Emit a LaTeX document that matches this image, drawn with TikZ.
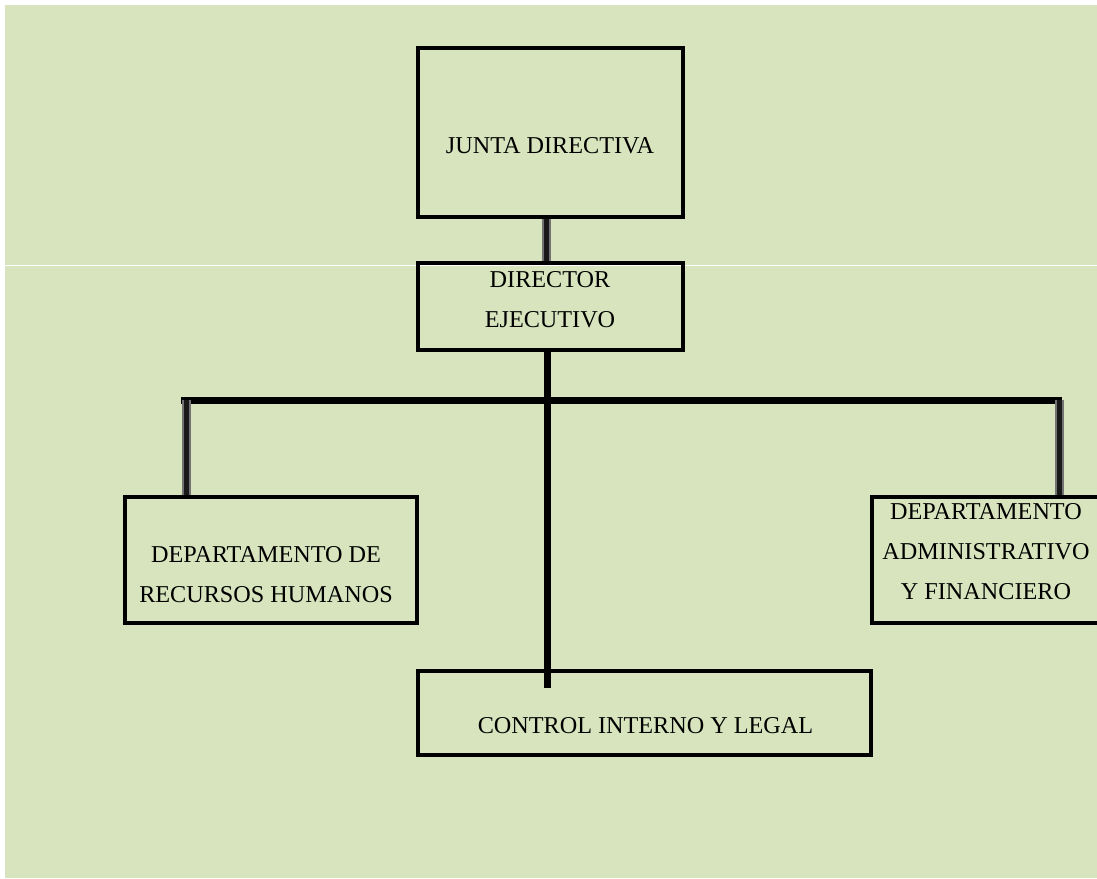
\documentclass[tikz,border=0pt]{standalone}
\usepackage{fontspec}
\setmainfont{Liberation Serif}
\begin{document}
\begin{tikzpicture}[x=1pt,y=-1pt,
  orgbox/.style={draw=black, line width=4pt, inner sep=0pt},
  orgtext/.style={align=center, inner sep=0pt, font=\fontsize{24.2}{40}\selectfont, text=black},
  trunkline/.style={line width=7pt, black},
  linkshade/.style={draw=black!55, double=black!90, double distance=5pt, line width=2pt}]
  \definecolor{sheet}{HTML}{D7E4BD}
  \useasboundingbox (0,0) rectangle (1097,878);
  \clip (0,0) rectangle (1097,878);
  % page and background
  \fill[white] (0,0) rectangle (1097,878);
  \fill[sheet] (5,5) rectangle (1097,878);
  \draw[white, line width=1pt] (5,265.3) -- (1097,265.3);

  % boxes
  \node[orgbox, minimum width=265pt, minimum height=169pt] (junta) at (550.5,132.5) {};
  \node[orgtext] (juntat) at (550,146) {JUNTA DIRECTIVA};

  \node[orgbox, minimum width=265pt, minimum height=87pt] (dir) at (550.5,306.5) {};
  \node[orgtext] (dirt) at (550,300) {DIRECTOR\\EJECUTIVO};

  \node[orgbox, minimum width=292pt, minimum height=126pt] (rrhh) at (271,560) {};
  \node[orgtext] (rrhht) at (266,575) {DEPARTAMENTO DE\\RECURSOS HUMANOS};

  \node[orgbox, minimum width=240pt, minimum height=126pt] (adm) at (992,560) {};
  \node[orgtext] (admt) at (986,552) {DEPARTAMENTO\\ADMINISTRATIVO\\Y FINANCIERO};

  \node[orgbox, minimum width=453pt, minimum height=84pt] (ctrl) at (644.5,713) {};
  \node[orgtext] (ctrlt) at (645.5,726) {CONTROL INTERNO Y LEGAL};

  % connectors
  \coordinate (topj) at (546,0);
  \draw[linkshade] (topj |- junta.south) -- (topj |- dir.north);

  \coordinate (trunk) at (547,688);
  \draw[trunkline] (trunk |- dir.south) -- (trunk);

  \coordinate (barl) at (181,400);
  \coordinate (barr) at (1062,400);
  \draw[trunkline] (barl) -- (barr);

  \coordinate (dropl) at (186,400);
  \coordinate (dropr) at (1059,400);
  \draw[linkshade] (dropl) -- (dropl |- rrhh.north);
  \draw[linkshade] (dropr) -- (dropr |- adm.north);
\end{tikzpicture}
\end{document}
